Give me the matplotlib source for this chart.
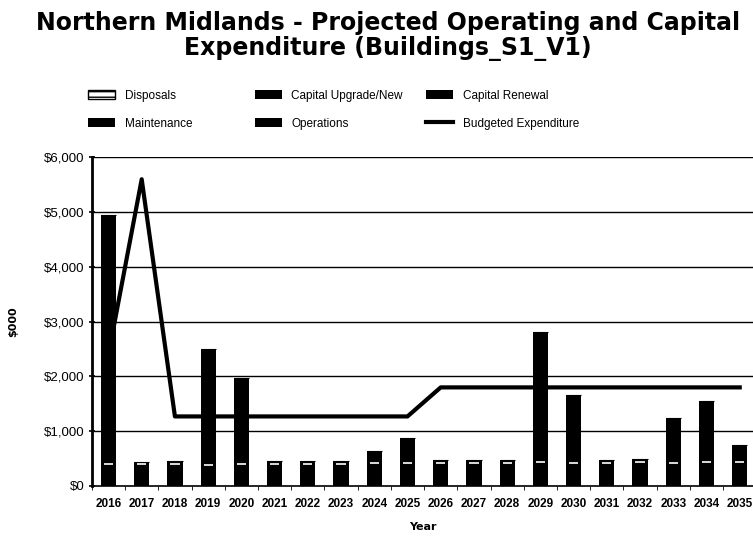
import numpy as np
import matplotlib.pyplot as plt
from matplotlib.patches import Patch
from matplotlib.lines import Line2D

years = [str(y) for y in range(2016, 2036)]

# $000 per year
operations = [400, 400, 410, 390, 400, 400, 410, 410, 420, 420,
              420, 420, 420, 430, 420, 420, 430, 420, 430, 430]
maintenance = [50, 40, 50, 50, 50, 50, 50, 50, 50, 50,
               50, 50, 50, 50, 50, 50, 50, 50, 50, 50]
capital_renewal = [4500, 0, 0, 2060, 1530, 0, 0, 0, 170, 410,
                   0, 0, 0, 2340, 1190, 10, 10, 780, 1080, 260]
capital_upgrade = [0] * 20
disposals = [0] * 20
budgeted = [2400, 5600, 1270, 1270, 1270, 1270, 1270, 1270, 1270, 1270,
            1800, 1800, 1800, 1800, 1800, 1800, 1800, 1800, 1800, 1800]

x = np.arange(len(years))
w = 0.46

fig = plt.figure(figsize=(7.53, 5.37), dpi=100)
ax = fig.add_axes([0.122, 0.095, 0.878, 0.612])

for v in range(1000, 7000, 1000):
    ax.axhline(v, color='black', lw=1.0, zorder=1)

bottom = np.zeros(len(years))
for vals in [operations, maintenance, capital_renewal, capital_upgrade]:
    ax.bar(x, vals, w, bottom=bottom, color='black', lw=0, zorder=2)
    bottom += np.array(vals)
ax.bar(x, disposals, w, bottom=bottom, color='white', edgecolor='black', lw=0.8, zorder=2)

# thin white break where operations meets maintenance
ax.hlines(operations, x - w * 0.3, x + w * 0.3, color='white', lw=1.2, zorder=3)

ax.plot(x, budgeted, color='black', lw=3, zorder=4)

ax.set_xlim(-0.48, 19.4)
ax.set_ylim(0, 6000)
ax.set_yticks(range(0, 7000, 1000))
ax.set_yticklabels(['$0', '$1,000', '$2,000', '$3,000', '$4,000', '$5,000', '$6,000'],
                   fontsize=9.5, family='Liberation Sans')
ax.set_xticks(x)
ax.set_xticklabels(years, fontsize=8.5, fontweight='bold', family='Liberation Sans')
ax.set_xticks(np.arange(-0.5, 19.5, 1), minor=True)
ax.tick_params(axis='x', which='major', length=0, pad=9)
ax.tick_params(axis='x', which='minor', length=3, direction='out')
ax.tick_params(axis='y', length=4, direction='inout', width=1.2)

for s in ['top', 'right']:
    ax.spines[s].set_visible(False)
ax.spines['left'].set_linewidth(2)
ax.spines['bottom'].set_linewidth(1.2)

ax.set_xlabel('Year', fontsize=8, fontweight='bold', labelpad=8)
ax.set_ylabel('$000', fontsize=8, fontweight='bold', labelpad=18)

fig.text(0.515, 0.957, 'Northern Midlands - Projected Operating and Capital',
         ha='center', va='center', fontsize=17, fontweight='bold')
fig.text(0.515, 0.909, 'Expenditure (Buildings_S1_V1)',
         ha='center', va='center', fontsize=17, fontweight='bold')

# legend: three columns placed one by one
cols = [
    ([Patch(facecolor='white', edgecolor='black', hatch='---'), Patch(facecolor='black')],
     ['Disposals', 'Maintenance'], 0.117),
    ([Patch(facecolor='black'), Patch(facecolor='black')],
     ['Capital Upgrade/New', 'Operations'], 0.338),
    ([Patch(facecolor='black'), Line2D([0], [0], color='black', lw=3)],
     ['Capital Renewal', 'Budgeted Expenditure'], 0.566),
]
for handles, labels, xpos in cols:
    leg = fig.legend(handles, labels, loc='upper left', bbox_to_anchor=(xpos, 0.833),
                     frameon=False, prop={'family': 'Liberation Sans', 'size': 8.5},
                     handlelength=2.3, handleheight=0.8, handletextpad=0.8,
                     labelspacing=1.35, borderpad=0, borderaxespad=0)

fig.savefig('out.png', dpi=100)
